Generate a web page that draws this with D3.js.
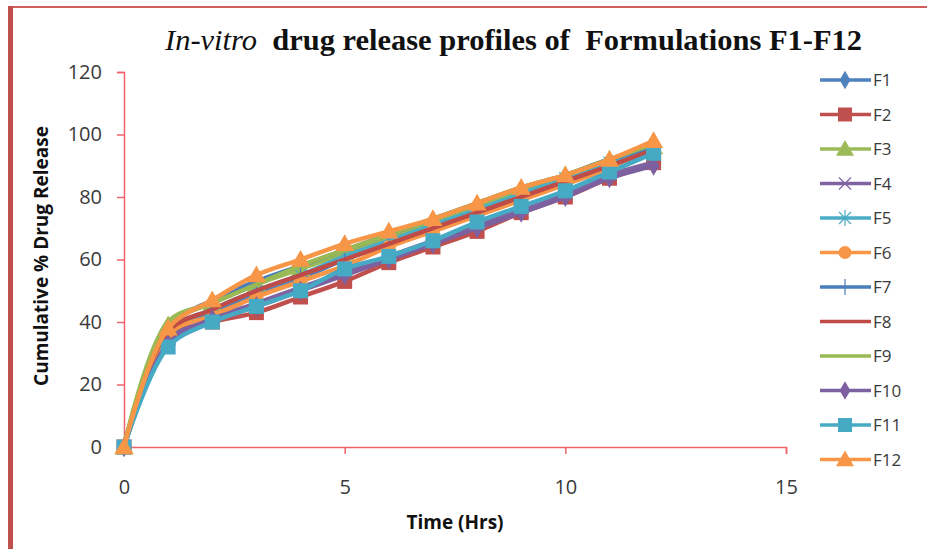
<!DOCTYPE html>
<html>
<head>
<meta charset="utf-8">
<script src="https://cdn.jsdelivr.net/npm/d3@7"></script>
<style>
  body { margin: 0; background: #fff; }
  svg { display: block; }
</style>
</head>
<body>
<svg class="release-chart"></svg>
<script>
// time points (hrs) and % release for each formulation
var hours = [0, 1, 2, 3, 4, 5, 6, 7, 8, 9, 10, 11, 12];
var seriesNames = ["F1", "F2", "F3", "F4", "F5", "F6", "F7", "F8", "F9", "F10", "F11", "F12"];
var f1  = [0, 36, 43, 49, 54, 60, 65, 70, 75, 80, 85, 90, 94];
var f2  = [0, 35, 40, 43, 48, 53, 59, 64, 69, 75, 80, 86, 91];
var f3  = [0, 39, 46, 52, 57, 62, 67, 72, 77, 82, 87, 92, 96];
var f4  = [0, 34, 41, 46, 51, 56, 61, 66, 71, 76, 81, 87, 91];
var f5  = [0, 37, 44, 50, 55, 61, 66, 71, 76, 81, 86, 91, 95];
var f6  = [0, 36, 42, 48, 53, 58, 64, 69, 74, 79, 84, 89, 94];
var f7  = [0, 38, 47, 53, 58, 63, 68, 73, 78, 83, 87, 92, 96];
var f8  = [0, 37, 44, 50, 55, 60, 65, 70, 75, 80, 85, 90, 95];
var f9  = [0, 40, 46, 52, 58, 63, 68, 73, 78, 83, 87, 92, 97];
var f10 = [0, 33, 41, 45, 50, 55, 60, 65, 70, 75, 80, 86, 90];
var f11 = [0, 32, 40, 45, 50, 57, 61, 66, 72, 77, 82, 88, 94];
var f12 = [0, 38, 47, 55, 60, 65, 69, 73, 78, 83, 87, 92, 98];
var xTicks = [0, 5, 10, 15];
var yTicks = [0, 20, 40, 60, 80, 100, 120];

var allValues = [f1, f2, f3, f4, f5, f6, f7, f8, f9, f10, f11, f12];
var colors = ["#4F81BD", "#C0504D", "#9BBB59", "#8064A2", "#4BACC6", "#F79646",
              "#4A7EBB", "#BE4B48", "#98B954", "#7D60A0", "#46AAC5", "#F79646"];
var markers = ["diamond", "square", "triangle", "x", "asterisk", "circle",
               "plus", "none", "none", "diamond", "square", "triangle"];

var series = seriesNames.map(function (name, i) {
    return {
        name: name,
        color: colors[i],
        marker: markers[i],
        points: hours.map(function (h, j) { return [h, allValues[i][j]]; })
    };
});

var svgWidth = 927, svgHeight = 549;
var svg = d3.select("svg.release-chart")
    .attr("width", svgWidth)
    .attr("height", svgHeight);

// outer frame (left and top edges only)
svg.append("rect").attr("x", 8).attr("y", 6).attr("width", svgWidth).attr("height", 2)
    .attr("fill", "#cf5f5c");
svg.append("rect").attr("x", 8).attr("y", 6).attr("width", 5).attr("height", svgHeight)
    .attr("fill", "#c0504d");

var plot = { left: 124, right: 786, top: 72, bottom: 447 };
var xScale = d3.scaleLinear().domain([0, 15]).range([plot.left, plot.right]);
var yScale = d3.scaleLinear().domain([0, 120]).range([plot.bottom, plot.top]);

var axisColor = "#f0616a";
var tickFont = "'Open Sans', 'Liberation Sans', sans-serif";

// title
var title = svg.append("text")
    .attr("x", 165)
    .attr("y", 50)
    .attr("textLength", 697)
    .attr("lengthAdjust", "spacingAndGlyphs")
    .style("font-family", "'Liberation Serif', 'Times New Roman', serif")
    .style("font-size", "29px")
    .style("fill", "#111");
title.append("tspan").style("font-style", "italic").text("In-vitro");
title.append("tspan").style("font-weight", "bold").attr("xml:space", "preserve")
    .text("  drug release profiles of  Formulations F1-F12");

// y axis
var yAxis = svg.append("g")
    .attr("transform", "translate(" + plot.left + ",0)")
    .call(d3.axisLeft(yScale).tickValues(yTicks).tickSize(7).tickPadding(15));
// x axis
var xAxis = svg.append("g")
    .attr("transform", "translate(0," + plot.bottom + ")")
    .call(d3.axisBottom(xScale).tickValues(xTicks).tickSize(7).tickPadding(26));

[xAxis, yAxis].forEach(function (ax) {
    ax.select(".domain").attr("stroke", axisColor).attr("stroke-width", 1.5);
    ax.selectAll(".tick line").attr("stroke", axisColor).attr("stroke-width", 1.5);
    ax.selectAll(".tick text")
        .style("font-family", tickFont)
        .style("font-size", "20px")
        .attr("fill", "#3a3a3a");
});

// axis titles
svg.append("text")
    .attr("x", 455)
    .attr("y", 529)
    .attr("text-anchor", "middle")
    .style("font-family", tickFont)
    .style("font-size", "19px")
    .style("font-weight", "bold")
    .attr("fill", "#111")
    .text("Time (Hrs)");

svg.append("text")
    .attr("text-anchor", "middle")
    .attr("transform", "translate(48,256)rotate(-90)")
    .style("font-family", tickFont)
    .style("font-size", "19px")
    .style("font-weight", "bold")
    .attr("fill", "#111")
    .text("Cumulative % Drug Release");

// marker drawing
function drawMarker(sel, type, color, size) {
    var s = size;
    if (type === "diamond") {
        sel.append("path").attr("d", d3.symbol().type(d3.symbolDiamond).size(s * s * 0.7)())
            .attr("fill", color);
    } else if (type === "square") {
        sel.append("rect").attr("x", -s / 2).attr("y", -s / 2).attr("width", s).attr("height", s)
            .attr("fill", color);
    } else if (type === "triangle") {
        sel.append("path").attr("d", "M0," + (-s * 0.6) + "L" + (s * 0.6) + "," + (s * 0.45) +
            "L" + (-s * 0.6) + "," + (s * 0.45) + "Z").attr("fill", color);
    } else if (type === "circle") {
        sel.append("circle").attr("r", s / 2).attr("fill", color);
    } else if (type === "x") {
        sel.append("path").attr("d", "M-6,-6L6,6M-6,6L6,-6")
            .attr("stroke", color).attr("stroke-width", 1.2).attr("fill", "none");
    } else if (type === "asterisk") {
        sel.append("path").attr("d", "M-6,-6L6,6M-6,6L6,-6M0,-8L0,8")
            .attr("stroke", color).attr("stroke-width", 1.2).attr("fill", "none");
    } else if (type === "plus") {
        sel.append("path").attr("d", "M0,-8L0,8")
            .attr("stroke", color).attr("stroke-width", 1.2).attr("fill", "none");
    }
}

var line = d3.line()
    .x(function (d) { return xScale(d[0]); })
    .y(function (d) { return yScale(d[1]); })
    .curve(d3.curveCatmullRom.alpha(0.5));

var markerSize = { diamond: 13, square: 15, triangle: 16, circle: 14 };

series.forEach(function (s) {
    var g = svg.append("g");
    g.append("path")
        .datum(s.points)
        .attr("d", line)
        .attr("fill", "none")
        .attr("stroke", s.color)
        .attr("stroke-width", 4.5)
        .attr("stroke-linejoin", "round");
    g.selectAll("g.pt")
        .data(s.points)
        .enter()
        .append("g")
        .attr("class", "pt")
        .attr("transform", function (d) {
            return "translate(" + xScale(d[0]) + "," + yScale(d[1]) + ")";
        })
        .each(function () {
            drawMarker(d3.select(this), s.marker, s.color, markerSize[s.marker] || 12);
        });
});

// legend
var legend = svg.append("g").attr("transform", "translate(820,80)");
var rows = legend.selectAll("g")
    .data(series)
    .enter()
    .append("g")
    .attr("transform", function (d, i) { return "translate(0," + (i * 34.5) + ")"; });
rows.append("line")
    .attr("x1", 0).attr("x2", 51)
    .attr("stroke", function (d) { return d.color; })
    .attr("stroke-width", 3.5);
rows.each(function (d) {
    var m = d3.select(this).append("g").attr("transform", "translate(25,0)");
    drawMarker(m, d.marker, d.color, (markerSize[d.marker] || 12) - 1);
});
rows.append("text")
    .attr("x", 53)
    .attr("y", 6)
    .style("font-family", tickFont)
    .style("font-size", "17px")
    .attr("fill", "#3a3a3a")
    .text(function (d) { return d.name; });
</script>
</body>
</html>
